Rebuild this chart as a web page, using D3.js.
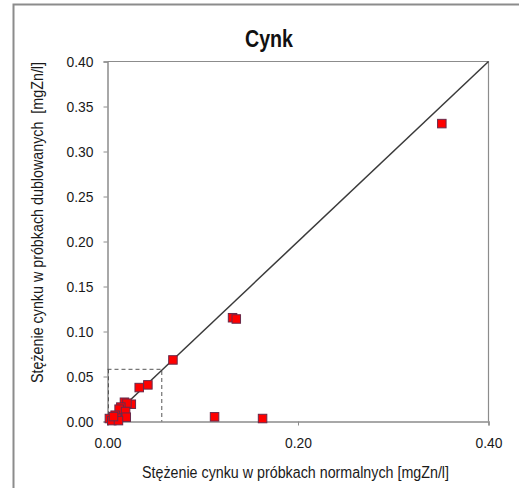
<!DOCTYPE html>
<html><head><meta charset="utf-8">
<script src="https://cdn.jsdelivr.net/npm/d3@7"></script>
<style>body{margin:0;background:#fff}svg{display:block}</style>
</head><body>
<script>
const title = "Cynk";
const xLabel = "Stężenie cynku w próbkach normalnych [mgZn/l]";
const yLabel = "Stężenie cynku w próbkach dublowanych  [mgZn/l]";
const xTicks = [0, 0.2, 0.4];
const yTicks = [0, 0.05, 0.10, 0.15, 0.20, 0.25, 0.30, 0.35, 0.40];
const xValues = [0.351, 0.1313, 0.1352, 0.0687, 0.0424, 0.0333, 0.1124, 0.1628, 0.025, 0.0178, 0.0204, 0.014, 0.0122, 0.019, 0.0197, 0.008, 0.0098, 0.002, 0.0045, 0.0115, 0.0063];
const yValues = [0.331, 0.1153, 0.1139, 0.0684, 0.0407, 0.0377, 0.0052, 0.0033, 0.0192, 0.0214, 0.0203, 0.016, 0.0137, 0.0111, 0.0048, 0.007, 0.0037, 0.0033, 0.001, 0.001, 0.0055];
const lineX = [0, 0.4];
const lineY = [0, 0.4];
const boxX = [0, 0.057];
const boxY = [0, 0.058];

const W = 519, H = 488;
const svg = d3.select("body").append("svg").attr("width", W).attr("height", H);
const font = "'Liberation Sans', Arial, sans-serif";

// outer frame
svg.append("path").attr("d", `M13.5,${H} V4.5 H${W}`).attr("fill", "none").attr("stroke", "#8c8c8c").attr("stroke-width", 2);

const x = d3.scaleLinear().domain([0, 0.4]).range([107.5, 488.5]);
const y = d3.scaleLinear().domain([0, 0.4]).range([421.5, 61.5]);

// plot box top/right
svg.append("path").attr("d", `M${x(0)},${y(0.4)} H${x(0.4)} V${y(0)}`).attr("fill", "none").attr("stroke", "#8c8c8c").attr("stroke-width", 1.2);

// axes
const xAxis = d3.axisBottom(x).tickValues(xTicks).tickSize(4).tickFormat(d3.format(".2f"));
const gx = svg.append("g").attr("transform", `translate(0,${y(0)})`).call(xAxis);
const yAxis = d3.axisLeft(y).tickValues(yTicks).tickSize(4).tickFormat(d3.format(".2f"));
const gy = svg.append("g").attr("transform", `translate(${x(0)},0)`).call(yAxis);
[gx, gy].forEach(g => {
  g.select(".domain").attr("stroke", "#8c8c8c").attr("stroke-width", 1.5);
  g.selectAll(".tick line").attr("stroke", "#8c8c8c");
  g.selectAll("text").attr("font-family", font).attr("font-size", 15).attr("fill", "#1a1a1a");
});
gx.selectAll("text").attr("dy", null).attr("y", 26);
gy.selectAll("text").attr("x", -14).attr("dy", "0.36em");
gx.selectAll("text").attr("textLength", 27).attr("lengthAdjust", "spacingAndGlyphs");
gy.selectAll("text").attr("textLength", 27).attr("lengthAdjust", "spacingAndGlyphs");

// dashed box
svg.append("path")
  .attr("d", `M${x(boxX[0])},${y(boxY[1])} H${x(boxX[1])} V${y(boxY[0])}`)
  .attr("fill", "none").attr("stroke", "#555").attr("stroke-width", 1).attr("stroke-dasharray", "4,3");
svg.append("line").attr("x1", x(boxX[0]) + 1).attr("x2", x(boxX[0]) + 1).attr("y1", y(boxY[1])).attr("y2", y(boxY[0]))
  .attr("stroke", "#555").attr("stroke-dasharray", "4,3");

// diagonal line
svg.append("line").attr("x1", x(lineX[0])).attr("y1", y(lineY[0])).attr("x2", x(lineX[1])).attr("y2", y(lineY[1]))
  .attr("stroke", "#3a3a3a").attr("stroke-width", 1.5);

// points
const s = 8.5;
svg.append("g").selectAll("rect").data(xValues.map((v, i) => [v, yValues[i]])).join("rect")
  .attr("x", d => x(d[0]) - s / 2).attr("y", d => y(d[1]) - s / 2)
  .attr("width", s).attr("height", s)
  .attr("fill", "#ff0000").attr("stroke", "#6a2a4a").attr("stroke-width", 1);

// title
svg.append("text").attr("x", 269).attr("y", 47).attr("text-anchor", "middle")
  .attr("font-family", font).attr("font-weight", "bold").attr("font-size", 23)
  .attr("textLength", 48).attr("lengthAdjust", "spacingAndGlyphs").attr("fill", "#111").text(title);

// axis labels
svg.append("text").attr("x", 295.5).attr("y", 478).attr("text-anchor", "middle")
  .attr("font-family", font).attr("font-size", 16).attr("fill", "#1a1a1a")
  .attr("textLength", 307).attr("lengthAdjust", "spacingAndGlyphs").text(xLabel);
svg.append("text").attr("transform", "translate(43,222.5) rotate(-90)").attr("text-anchor", "middle")
  .attr("font-family", font).attr("font-size", 16).attr("fill", "#1a1a1a")
  .style("white-space", "pre").attr("xml:space", "preserve")
  .attr("textLength", 321).attr("lengthAdjust", "spacingAndGlyphs").text(yLabel);
</script>
</body></html>
